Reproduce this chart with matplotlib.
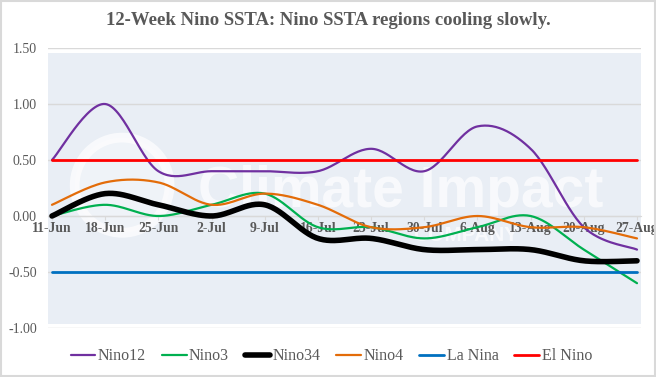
import numpy as np
import matplotlib
matplotlib.use("Agg")
import matplotlib.pyplot as plt
from matplotlib.patches import Rectangle, Ellipse
from matplotlib.lines import Line2D

weeks = ["11-Jun", "18-Jun", "25-Jun", "2-Jul", "9-Jul", "16-Jul", "23-Jul",
         "30-Jul", "6-Aug", "13-Aug", "20-Aug", "27-Aug"]
nino12 = [0.5, 1.0, 0.4, 0.4, 0.4, 0.4, 0.6, 0.4, 0.8, 0.6, -0.1, -0.3]
nino3 = [0.0, 0.1, 0.0, 0.1, 0.2, -0.1, -0.1, -0.2, -0.1, 0.0, -0.3, -0.6]
nino34 = [0.0, 0.2, 0.1, 0.0, 0.1, -0.2, -0.2, -0.3, -0.3, -0.3, -0.4, -0.4]
nino4 = [0.1, 0.3, 0.3, 0.1, 0.2, 0.1, -0.1, -0.1, 0.0, -0.1, -0.1, -0.2]
la_nina = [-0.5] * 12
el_nino = [0.5] * 12
yticks = [1.5, 1.0, 0.5, 0.0, -0.5, -1.0]

title = "12-Week Nino SSTA: Nino SSTA regions cooling slowly."

def smooth(xs, ys, n=30):
    xs = np.asarray(xs, float); ys = np.asarray(ys, float)
    P = np.column_stack([xs, ys])
    out = []
    for i in range(len(P) - 1):
        p0 = P[i - 1] if i > 0 else P[i]
        p1 = P[i]; p2 = P[i + 1]
        p3 = P[i + 2] if i + 2 < len(P) else P[i + 1]
        c1 = p1 + (p2 - p0) / 6.0
        c2 = p2 - (p3 - p1) / 6.0
        t = np.linspace(0, 1, n)[:, None]
        seg = ((1 - t) ** 3) * p1 + 3 * ((1 - t) ** 2) * t * c1 + 3 * (1 - t) * t ** 2 * c2 + t ** 3 * p2
        out.append(seg if i == 0 else seg[1:])
    S = np.vstack(out)
    return S[:, 0], S[:, 1]

plt.rcParams['font.family'] = ['Liberation Serif', 'DejaVu Serif']
txt = "#595959"

fig = plt.figure(figsize=(6.56, 3.77), dpi=100)
fig.patches.append(Rectangle((0.0015, 0.002), 0.997, 0.995, transform=fig.transFigure,
                             fill=False, edgecolor="#D9D9D9", linewidth=1.5))
ax = fig.add_axes([48/656, 1-328/377, 593/656, 280/377])
ax.set_facecolor("white")
ax.add_patch(Rectangle((0, 0.014), 1, 0.968, transform=ax.transAxes,
                       facecolor="#E9EEF5", edgecolor="none", zorder=0))
# watermark
wm_alpha = 0.7
ax.text(0.595, 0.432, "Climate Impact", transform=ax.transAxes, fontsize=41,
        family="Liberation Sans", fontweight="bold", color="white", alpha=wm_alpha,
        ha="center", va="baseline", zorder=1)
ax.text(0.705, 0.33, "COMPANY", transform=ax.transAxes, fontsize=15,
        family="Liberation Sans", fontweight="bold", color="white", alpha=wm_alpha,
        ha="center", va="center", zorder=1)
ax.add_patch(Ellipse((0.125, 0.51), 0.16, 0.34, transform=ax.transAxes, fill=False,
                     edgecolor="white", linewidth=7, alpha=wm_alpha, zorder=1))
ax.add_patch(Ellipse((0.125, 0.51), 0.16, 0.34, transform=ax.transAxes, fill=True,
                     facecolor="white", edgecolor="none", alpha=0.3, zorder=1))

x = np.arange(len(weeks))
ax.set_xlim(-0.075, len(weeks) - 1 + 0.075)
ax.set_ylim(-1.0, 1.5)
for yv in yticks:
    ax.axhline(yv, color="#D9D9D9", linewidth=1, zorder=1)

series = [
    ("Nino12", nino12, "#7030A0", 1.6),
    ("Nino3", nino3, "#00B050", 1.6),
    ("Nino34", nino34, "#000000", 4.0),
    ("Nino4", nino4, "#E36C09", 1.6),
    ("La Nina", la_nina, "#0070C0", 2.0),
    ("El Nino", el_nino, "#FF0000", 2.0),
]
handles = []
for name, vals, col, lw in series:
    sx, sy = smooth(x, vals)
    ax.plot(sx, sy, color=col, linewidth=lw, solid_capstyle="round", zorder=3)
    handles.append(Line2D([0], [0], color=col, linewidth=lw, solid_capstyle="round"))

for s in ["top", "right", "left"]:
    ax.spines[s].set_visible(False)
ax.spines["bottom"].set_position(("data", 0))
ax.spines["bottom"].set_color("#D9D9D9")
ax.set_xticks(x)
ax.set_xticklabels(weeks, fontsize=9.8, fontweight="bold", color=txt)
ax.tick_params(axis="x", length=3, color="#D9D9D9", pad=1)
ax.set_yticks(yticks)
ax.set_yticklabels(["%.2f" % v for v in yticks], fontsize=10, color=txt)
ax.tick_params(axis="y", length=0, pad=8)

fig.text(0.5, 0.945, title, ha="center", va="center", fontsize=13.5,
         fontweight="bold", color=txt)
fig.legend(handles, [s[0] for s in series], loc="center", bbox_to_anchor=(0.505, 0.055),
           ncol=6, frameon=False, fontsize=11.5, handlelength=1.55, handletextpad=0.15,
           columnspacing=1.0, labelcolor=txt)

fig.savefig("out.png", dpi=100)
